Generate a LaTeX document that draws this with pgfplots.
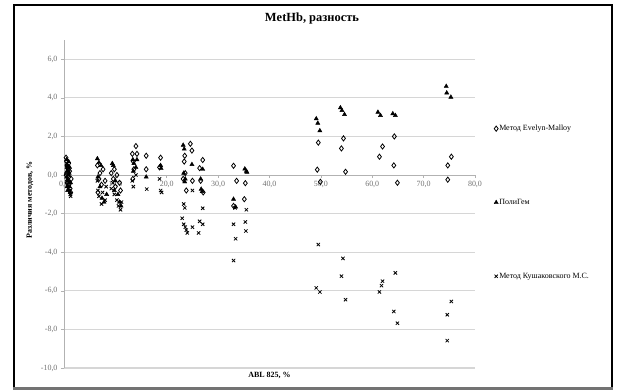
\documentclass[border=0pt]{standalone}
\usepackage{pgfplots}
\pgfplotsset{compat=1.18}
\usepackage{fontspec}
\setmainfont{Liberation Serif}
\begin{document}
\begin{tikzpicture}
\useasboundingbox (0bp,0bp) rectangle (617bp,392bp);
\fill[white] (0bp,0bp) rectangle (617bp,392bp);
\begin{axis}[
  at={(64bp,24bp)}, anchor=south west,
  scale only axis, width=411bp, height=328bp,
  xmin=0, xmax=80, ymin=-10, ymax=7,
  axis x line*=middle, axis y line*=left,
  hide obscured x ticks=false, hide obscured y ticks=false,
  xtick={0,10,...,80}, ytick={-10,-8,...,6},
  ymajorgrids, major grid style={black!16, line width=1.1bp},
  axis line style={black!30, line width=0.8bp},
  tick style={black!30, line width=0.6bp}, major tick length=3bp, tick align=outside,
  ticklabel style={font=\fontsize{8}{9}\selectfont, text=black!55},
  /pgf/number format/.cd, fixed, fixed zerofill, precision=1, use comma, assume math mode=true,
  /pgfplots/.cd,
  xlabel={ABL 825, \%}, ylabel={Различия методов, \%},
  xlabel style={at={(axis description cs:0.5,0)}, anchor=north, yshift=-1bp, font=\bfseries\fontsize{8}{9}\selectfont},
  ylabel style={at={(axis description cs:-0.083,0.512)}, anchor=center, font=\bfseries\fontsize{8}{9}\selectfont},
  legend style={at={(axis description cs:1.046,0.744)}, anchor=north west, draw=none, fill=none,
    font=\fontsize{8}{9}\selectfont, row sep=65bp, inner sep=0pt, nodes={inner sep=1pt}},
  legend cell align=left,
  legend image code/.code={\draw[#1] plot coordinates {(0.06cm,0cm)};},
  clip=false,
]
\addplot[only marks, mark=diamond, mark size=2.6bp, mark options={draw=black, fill=white, line width=0.8bp}] coordinates {
(0.4,0.9)(0.5,0.7)(0.6,0.5)(0.8,0.3)(0.5,0.1)(0.9,-0.1)(0.7,-0.3)(1.0,-0.5)(1.2,-0.7)(0.6,-0.4)(1.1,0.2)(0.4,0.0)(1.3,-0.9)(0.9,0.6)(0.7,0.4)(1.4,-0.2)
(6.5,0.5)(7.0,0.1)(6.8,-0.2)(7.3,-0.5)(6.6,-0.9)(7.6,0.3)(8.0,-0.3)
(9.2,0.1)(9.6,-0.2)(10.0,-0.6)(10.3,0.0)(10.8,-0.4)(11.0,-0.8)(9.8,0.3)
(13.3,1.1)(13.5,0.7)(14.0,1.5)(14.2,1.1)(13.6,0.3)(13.4,-0.2)
(16.0,1.0)(16.0,0.3)
(18.8,0.9)(18.6,0.4)
(23.5,1.0)(23.4,0.7)(23.6,0.1)(23.2,-0.2)(23.8,-0.8)(24.6,1.62)(24.9,1.27)(25.0,-0.3)
(27.0,0.78)(26.4,0.36)(26.6,-0.3)(27.1,-0.9)
(33.0,0.48)(33.6,-0.3)(33.0,-1.6)
(35.3,-0.42)(35.1,-1.25)
(49.5,1.68)(49.3,0.28)(49.9,-0.35)(54.4,1.9)(54.0,1.38)(54.8,0.17)(62.0,1.48)(61.4,0.95)(64.3,2.0)(64.2,0.5)(64.9,-0.4)(75.4,0.95)(74.7,0.5)(74.7,-0.24)
};
\addlegendentry{Метод Evelyn-Malloy}
\addplot[only marks, mark=triangle*, mark size=2.4bp, mark options={draw=black, fill=black}] coordinates {
(0.5,0.8)(0.7,0.5)(0.6,0.2)(0.9,0.0)(0.8,-0.3)(1.0,-0.6)(1.2,-0.9)(0.5,-0.1)(1.1,0.4)(0.7,-0.8)(1.3,-0.4)(0.9,0.7)(0.6,-0.6)(1.0,0.1)
(6.5,0.85)(6.8,0.65)(7.2,0.5)(6.6,-0.1)(7.0,-0.6)(7.4,-1.2)(8.3,-1.0)(7.8,-1.4)
(9.4,0.6)(9.6,0.5)(10.0,-0.3)(10.5,-1.0)(10.8,-1.4)(11.1,-1.6)(9.8,-0.8)
(13.4,0.8)(13.6,0.6)(14.0,0.4)(14.2,0.8)(13.5,0.2)
(16.0,-0.1)
(18.8,0.5)(18.9,0.35)
(23.2,1.55)(23.4,1.35)(23.3,0.1)(23.6,-0.2)(24.9,0.55)(23.5,-0.35)
(27.0,0.3)(26.6,-0.2)(26.7,-0.73)(26.9,-0.85)
(33.0,-1.25)(33.4,-1.65)
(35.2,0.32)(35.5,0.2)(35.6,0.15)
(49.1,2.92)(49.4,2.69)(49.8,2.3)(53.8,3.49)(54.1,3.35)(54.6,3.14)(61.1,3.26)(61.6,3.09)(64.0,3.18)(64.5,3.09)(74.4,4.6)(74.5,4.26)(75.3,4.04)
};
\addlegendentry{ПолиГем}
\addplot[only marks, mark=x, mark size=2.3bp, mark options={draw=black, line width=0.8bp}] coordinates {
(0.5,0.6)(0.7,0.3)(0.8,0.0)(0.6,-0.2)(1.0,-0.4)(0.9,-0.7)(1.2,-1.0)(1.3,-1.1)(0.5,0.4)(1.1,-0.8)(0.7,-0.5)(1.0,0.2)
(6.5,-0.3)(6.6,-0.8)(6.8,-1.1)(7.3,-1.5)(7.5,-0.9)(8.2,-0.6)(8.0,-1.3)
(9.5,-0.4)(9.8,-1.0)(10.3,-1.3)(10.6,-1.6)(11.0,-1.8)(11.2,-1.4)(9.2,-0.7)
(13.3,-0.3)(13.5,-0.6)(14.0,0.0)
(16.1,-0.73)
(18.6,-0.2)(18.8,-0.8)(19.0,-0.9)
(23.3,-1.5)(23.5,-1.7)(23.0,-2.24)(23.3,-2.55)(23.6,-2.7)(23.8,-2.85)(24.0,-3.0)(25.0,-2.7)(25.0,-0.8)
(27.0,-1.72)(26.4,-2.4)(27.0,-2.55)(26.2,-3.0)
(33.3,-1.7)(33.0,-2.55)(33.4,-3.3)(33.0,-4.43)
(35.5,-1.8)(35.3,-2.43)(35.4,-2.9)
(49.5,-3.6)(49.1,-5.85)(49.8,-6.06)(54.3,-4.32)(54.0,-5.24)(54.8,-6.46)(62.0,-5.5)(61.8,-5.73)(61.4,-6.06)(64.5,-5.07)(64.2,-7.07)(64.9,-7.68)(75.4,-6.55)(74.6,-7.24)(74.6,-8.58)
};
\addlegendentry{Метод Кушаковского М.С.}
\end{axis}
\node[font=\bfseries\fontsize{12.5}{14}\selectfont] at (312bp,373bp) {MetHb, разность};
\draw[line width=2bp] (14bp,4bp) -- (14bp,387bp) -- (611.5bp,387bp) -- (611.5bp,4bp);
\draw[line width=3.5bp, black!55] (13bp,3.5bp) -- (612.5bp,3.5bp);
\end{tikzpicture}
\end{document}
